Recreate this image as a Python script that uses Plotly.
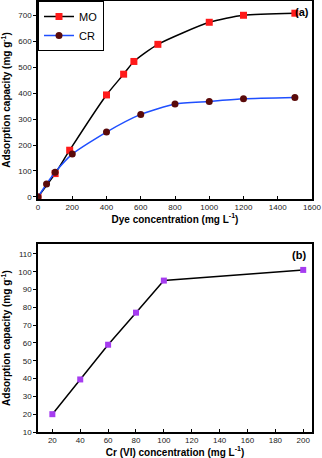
import plotly.graph_objects as go
from plotly.subplots import make_subplots

# Panel (a): dye adsorption
mo_conc = [0, 100, 185, 400, 500, 560, 700, 1000, 1200, 1500]
mo_cap = [0, 90, 180, 393, 473, 522, 588, 673, 700, 708]
cr_conc = [0, 50, 100, 200, 400, 600, 800, 1000, 1200, 1500]
cr_cap = [0, 50, 95, 165, 250, 318, 358, 368, 378, 383]

# Panel (b): Cr(VI) adsorption
crvi_conc = [20, 40, 60, 80, 100, 200]
crvi_cap = [20, 39.5, 59, 77, 95, 101]

fig = make_subplots(rows=2, cols=1)

fig.add_trace(go.Scatter(x=mo_conc, y=mo_cap, name="MO", mode="lines+markers",
                         line=dict(color="black", width=1.5, shape="spline", smoothing=0.6),
                         marker=dict(symbol="square", size=7, color="#ff1a1a")),
              row=1, col=1)
fig.add_trace(go.Scatter(x=cr_conc, y=cr_cap, name="CR", mode="lines+markers",
                         line=dict(color="#1f4fff", width=1.5, shape="spline", smoothing=0.6),
                         marker=dict(symbol="circle", size=7, color="#5a0a0a")),
              row=1, col=1)
fig.add_trace(go.Scatter(x=crvi_conc, y=crvi_cap, mode="lines+markers", showlegend=False,
                         line=dict(color="black", width=1.5),
                         marker=dict(symbol="square", size=6, color="#a63cf0")),
              row=2, col=1)

font = dict(family="Liberation Sans, Arial", size=8, color="#222")
title_font = dict(family="Liberation Sans, Arial", size=10, color="black")
axis_common = dict(showline=True, linecolor="black", linewidth=1.5, mirror=True,
                   showgrid=False, zeroline=False, tickfont=font, ticklen=3,
                   tickcolor="black", automargin=False)

fig.update_xaxes(axis_common)
fig.update_yaxes(axis_common)

fig.update_xaxes(row=1, col=1, range=[0, 1600], dtick=200, ticks="inside",
                 domain=[0, 1],
                 title=dict(text="<b>Dye concentration (mg L<sup>-1</sup>)</b>",
                            font=title_font, standoff=3))
fig.update_yaxes(row=1, col=1, range=[-8, 755], dtick=100, ticks="outside",
                 domain=[0.5406, 1.0],
                 title=dict(text="<b>Adsorption capacity (mg g<sup>-1</sup>)</b>",
                            font=title_font))
fig.update_xaxes(row=2, col=1, range=[9.7, 206.3], tick0=20, dtick=20, ticks="inside",
                 domain=[0, 1],
                 title=dict(text="<b>Cr (VI) concentration (mg L<sup>-1</sup>)</b>",
                            font=title_font, standoff=3))
fig.update_yaxes(row=2, col=1, range=[10, 115.5], dtick=10, ticks="outside",
                 domain=[0, 0.436],
                 title=dict(text="<b>Adsorption capacity (mg g<sup>-1</sup>)</b>",
                            font=title_font))

fig.add_annotation(text="<b>(a)</b>", xref="x domain", yref="y domain", x=0.995, y=0.985,
                   xanchor="right", yanchor="top", showarrow=False,
                   font=dict(family="Liberation Sans, Arial", size=11, color="black"))
fig.add_annotation(text="<b>(b)</b>", xref="x2 domain", yref="y2 domain", x=0.985, y=0.985,
                   xanchor="right", yanchor="top", showarrow=False,
                   font=dict(family="Liberation Sans, Arial", size=11, color="black"))

fig.update_layout(
    width=322, height=458,
    margin=dict(l=38, r=10, t=1, b=26, autoexpand=False),
    paper_bgcolor="white", plot_bgcolor="white",
    legend=dict(x=0, y=1, xanchor="left", yanchor="top", bgcolor="white",
                bordercolor="black", borderwidth=1,
                font=dict(family="Liberation Sans, Arial", size=11, color="black"),
                tracegroupgap=0, itemwidth=30),
)

# page body margin would shift the fixed-size figure
fig.write_html("out.html", config={"displayModeBar": False},
               post_script="document.body.style.margin='0';")
